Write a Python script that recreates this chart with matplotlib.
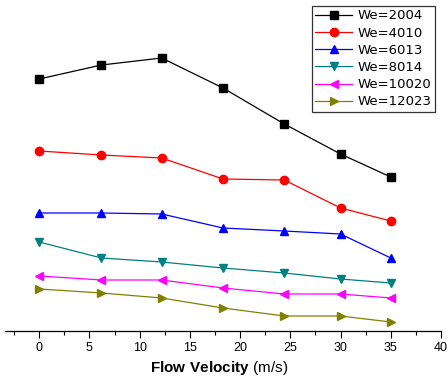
import numpy as np
import matplotlib.pyplot as plt
from matplotlib.ticker import MultipleLocator

plt.rcParams['font.family'] = ['Liberation Sans', 'DejaVu Sans']
plt.rcParams['mathtext.fontset'] = 'custom'
plt.rcParams['mathtext.bf'] = 'Liberation Sans:bold'
plt.rcParams['mathtext.rm'] = 'Liberation Sans'

velocity = [0, 6.2, 12.2, 18.3, 24.4, 30, 35]

# height of each curve (arbitrary units, no y axis in the original)
we_2004 = [252, 266, 273, 243, 207, 177, 154]
we_4010 = [180, 176, 173, 152, 151, 123, 110]
we_6013 = [118, 118, 117, 103, 100, 97, 73]
we_8014 = [89, 73, 69, 63, 58, 52, 48]
we_10020 = [55, 51, 51, 43, 37, 37, 33]
we_12023 = [42, 38, 33, 23, 15, 15, 9]

series = [
    ('We=2004', we_2004, 'black', 's'),
    ('We=4010', we_4010, 'red', 'o'),
    ('We=6013', we_6013, 'blue', '^'),
    ('We=8014', we_8014, '#008080', 'v'),
    ('We=10020', we_10020, 'magenta', '<'),
    ('We=12023', we_12023, '#808000', '>'),
]

fig = plt.figure(figsize=(4.48, 3.78), dpi=100)
ax = fig.add_axes([5 / 448, 47 / 378, 436 / 448, 331 / 378])

for name, vals, col, mk in series:
    ax.plot(velocity, vals, color=col, marker=mk, markersize=6, linewidth=0.9,
            label=name)

ax.set_xlim(-3.4, 40)
ax.set_ylim(0, 331)
ax.xaxis.set_major_locator(MultipleLocator(5))
ax.xaxis.set_minor_locator(MultipleLocator(2.5))
ax.tick_params(axis='x', which='major', length=5, width=0.8, labelsize=9, pad=3)
ax.tick_params(axis='x', which='minor', length=3, width=0.8)
ax.set_yticks([])
for s in ['top', 'left', 'right']:
    ax.spines[s].set_visible(False)
ax.spines['bottom'].set_linewidth(0.9)

ax.set_xlabel(r'$\bf{Flow\ Velocity}$ (m/s)', fontsize=11, labelpad=2)
ax.xaxis.set_label_coords(0.49, -0.085)

leg = ax.legend(loc='upper right', bbox_to_anchor=(430 / 436, 1 - 6 / 331),
                prop={'family': 'DejaVu Sans', 'size': 9.5}, frameon=True,
                fancybox=False, borderpad=0.25, labelspacing=0.32,
                handlelength=2.8, handletextpad=0.4, borderaxespad=0)
leg.get_frame().set_edgecolor('black')
leg.get_frame().set_linewidth(0.9)

fig.savefig('out.png', dpi=100)
